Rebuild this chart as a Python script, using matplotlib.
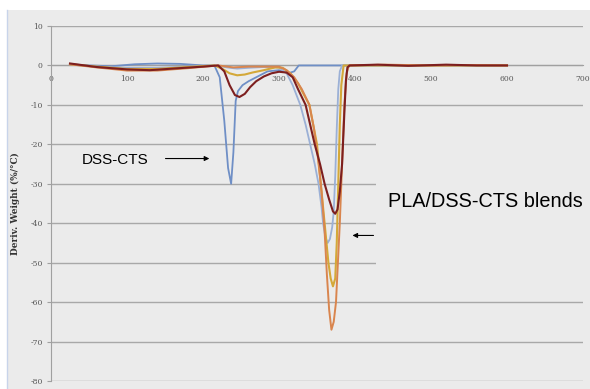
import matplotlib.pyplot as plt
from matplotlib.patches import Rectangle
from matplotlib.ticker import FuncFormatter

plt.rcParams['axes.unicode_minus'] = False

# temperature (°C) and derivative weight (%/°C)
dss_x = [25, 50, 80, 110, 140, 170, 200, 215, 222, 228, 233, 237, 240, 243, 246,
         252, 260, 270, 285, 300, 312, 320, 326, 340, 380, 450, 520, 600]
dss_y = [0.3, 0, -0.2, 0.3, 0.5, 0.4, 0, 0, -3, -14, -26, -30, -22, -9, -6.5,
         -5, -4, -3, -1.5, -1.2, -2, -1.5, 0, 0, 0, 0, 0, 0]

blue_x = [25, 60, 100, 140, 180, 215, 235, 245, 260, 280, 300, 310, 318, 328,
          335, 341, 347, 352, 356, 358, 361, 364, 367, 370, 372, 374, 376, 378,
          380, 383, 420, 500, 600]
blue_y = [0.2, -0.3, -0.6, -0.6, -0.3, 0, -0.6, -0.8, -0.6, -0.4, -0.5, -2,
          -5, -10, -15, -20, -25, -30, -36, -40, -43.5, -45, -44, -41, -37,
          -28, -16, -6, -1.5, 0, 0, 0, 0]

red_x = [25, 60, 100, 130, 160, 200, 220, 228, 235, 242, 248, 255, 262, 270,
         280, 290, 300, 310, 318, 325, 335, 341, 347, 354, 360, 366, 371, 374,
         377, 380, 383, 386, 388, 390, 393, 430, 470, 520, 560, 600]
red_y = [0.5, -0.4, -1.0, -1.2, -0.8, -0.3, 0, -1.5, -5, -7.5, -8, -7.2,
         -5.5, -4, -2.8, -2.0, -1.6, -1.8, -3, -6, -10, -15, -20, -25, -30,
         -34, -37, -37.6, -36.5, -32, -25, -12, -4, -0.5, 0, 0.2, -0.1, 0.2,
         0, 0]

gold_x = [25, 60, 100, 140, 180, 215, 225, 235, 245, 255, 265, 280, 295, 305,
          315, 325, 333, 340, 345, 350, 355, 360, 365, 368, 371, 374, 376, 378,
          380, 382, 385, 420, 500, 600]
gold_y = [0.3, -0.3, -0.9, -0.9, -0.4, 0, -0.8, -2.0, -2.5, -2.3, -1.8, -1.2,
          -0.5, -0.6, -2, -4.5, -7.5, -10, -15, -20, -30, -40, -50, -54, -56,
          -54, -45, -30, -15, -5, 0, 0, 0, 0]

orange_x = [25, 60, 100, 140, 180, 220, 240, 260, 300, 310, 320, 330, 340, 346,
            351, 356, 360, 363, 366, 369, 372, 375, 378, 380, 383, 386, 389,
            392, 440, 500, 560, 600]
orange_y = [0.3, -0.5, -1.3, -1.3, -0.7, 0, -0.5, -0.3, -0.3, -1.2, -3, -6,
            -10, -16, -23, -32, -42, -53, -62, -67, -65, -60, -48, -40, -25,
            -10, -2, 0, 0.2, 0, 0.1, 0]

y_ticks = [10, 0, -10, -20, -30, -40, -50, -60, -70, -80]
x_ticks = [0, 100, 200, 300, 400, 500, 600, 700]

BG = '#ebebeb'

fig = plt.figure(figsize=(5.9, 3.89), dpi=100)
fig.patch.set_facecolor('white')
fig.patches.append(Rectangle((8 / 590, 0), 1, 1 - 10 / 389,
                             transform=fig.transFigure, facecolor=BG,
                             edgecolor='none', zorder=-10))
fig.lines.append(plt.Line2D([7 / 590, 7 / 590], [0, 1 - 10 / 389],
                            transform=fig.transFigure, color='#c8d4ea', lw=1))

ax = fig.add_axes([51 / 590, 1 - 381 / 389, 532 / 590, 355 / 389])
ax.set_facecolor(BG)

ax.set_xlim(0, 700)
ax.set_ylim(-80, 10)
ax.set_xticks(x_ticks)
ax.set_yticks(y_ticks)
ax.yaxis.set_major_formatter(FuncFormatter(lambda v, p: f"{int(v)}"))

ax.grid(axis='y', color='#a8a8a8', lw=1)
ax.set_axisbelow(True)

for s in ['top', 'right']:
    ax.spines[s].set_visible(False)
ax.spines['left'].set_color('#a0a0a0')
ax.spines['bottom'].set_position(('data', 0))
ax.spines['bottom'].set_color('#a0a0a0')
ax.spines['bottom'].set_zorder(0.6)

ax.tick_params(axis='y', length=3, color='#a0a0a0', pad=3,
               labelsize=5.5, labelcolor='#555555')
ax.tick_params(axis='x', length=0, pad=7, labelsize=5.5, labelcolor='#555555')
for lab in ax.get_xticklabels() + ax.get_yticklabels():
    lab.set_family('DejaVu Serif')

# box behind the blends label hides part of the grid
ax.add_patch(Rectangle((428, -55), 300, 43, facecolor=BG, edgecolor='none',
                       zorder=1))

ax.plot(dss_x, dss_y, color='#6f8fc6', lw=1.3, zorder=3)
ax.plot(blue_x, blue_y, color='#9bb0d6', lw=1.3, zorder=3)
ax.plot(gold_x, gold_y, color='#d4a838', lw=1.5, zorder=3)
ax.plot(orange_x, orange_y, color='#d9854e', lw=1.4, zorder=3)
ax.plot(red_x, red_y, color='#7d1f1f', lw=1.5, zorder=4)

ax.set_ylabel("Deriv. Weight (%/°C)", family='DejaVu Serif', fontweight='bold',
              fontsize=6.5, color='#333333')
ax.yaxis.set_label_coords(-31 / 532, 0.5)

ax.text(41, -24.9, "DSS-CTS", family='Liberation Sans', fontsize=11,
        va='baseline', ha='left')
ax.annotate("", xy=(212, -23.6), xytext=(147, -23.6),
            arrowprops=dict(arrowstyle='-|>', lw=0.8, color='black',
                            mutation_scale=7))

ax.text(443, -35.8, "PLA/DSS-CTS blends", family='Liberation Sans',
        fontsize=14.3, va='baseline', ha='left')
ax.annotate("", xy=(393, -43.1), xytext=(428, -43.1),
            arrowprops=dict(arrowstyle='-|>', lw=0.8, color='black',
                            mutation_scale=7))

fig.savefig("out.png", dpi=100, facecolor=fig.get_facecolor())
